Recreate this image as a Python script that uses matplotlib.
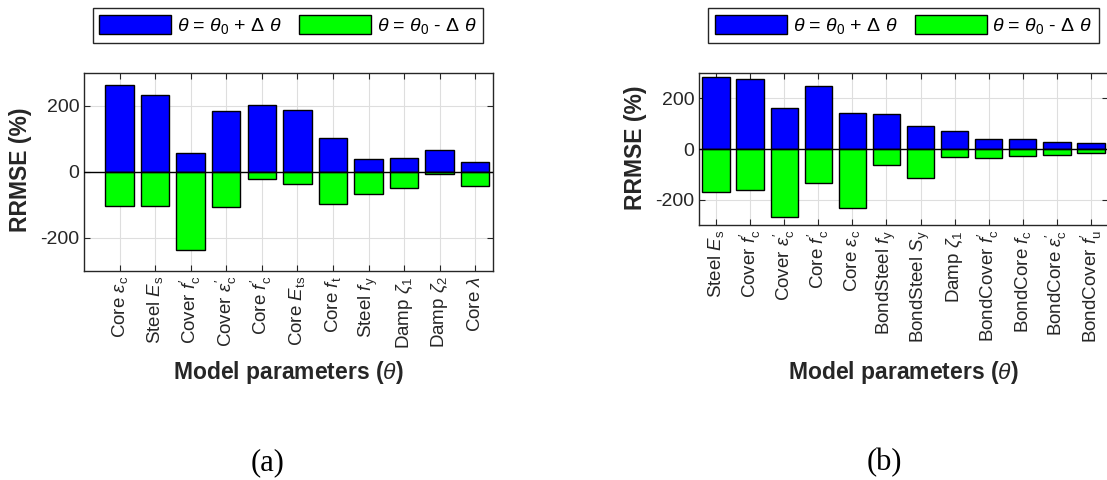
import matplotlib
matplotlib.use("Agg")
from matplotlib import pyplot as plt
from matplotlib.patches import Patch
import numpy as np

plt.rcParams['font.family'] = ['Liberation Sans', 'DejaVu Sans']
plt.rcParams['mathtext.fontset'] = 'custom'
plt.rcParams['mathtext.rm'] = 'Liberation Sans'
plt.rcParams['mathtext.it'] = 'Liberation Sans:italic'
plt.rcParams['mathtext.bf'] = 'Liberation Sans:bold'
plt.rcParams['axes.unicode_minus'] = False

# (a) parameters and RRMSE (%) for theta0 +/- dtheta
labels_a = [r"Core $\epsilon_\mathrm{c}$", r"Steel $E_\mathrm{s}$", r"Cover $f^{\prime}_\mathrm{c}$",
            r"Cover $\epsilon^{\prime}_\mathrm{c}$", r"Core $f^{\prime}_\mathrm{c}$", r"Core $E_\mathrm{ts}$",
            r"Core $f_\mathrm{t}$", r"Steel $f_\mathrm{y}$", r"Damp $\zeta_\mathrm{1}$",
            r"Damp $\zeta_\mathrm{2}$", r"Core $\lambda$"]
plus_a = [263, 233, 57, 184, 203, 187, 102, 38, 43, 66, 31]
minus_a = [-102, -104, -237, -107, -20, -37, -96, -66, -48, -7, -42]

# (b)
labels_b = [r"Steel $E_\mathrm{s}$", r"Cover $f^{\prime}_\mathrm{c}$", r"Cover $\epsilon^{\prime}_\mathrm{c}$",
            r"Core $f^{\prime}_\mathrm{c}$", r"Core $\epsilon_\mathrm{c}$", r"BondSteel $f_\mathrm{y}$",
            r"BondSteel $S_\mathrm{y}$", r"Damp $\zeta_\mathrm{1}$", r"BondCover $f^{\prime}_\mathrm{c}$",
            r"BondCore $f_\mathrm{c}$", r"BondCore $\epsilon^{\prime}_\mathrm{c}$", r"BondCover $f^{\prime}_\mathrm{u}$"]
plus_b = [286, 276, 161, 248, 142, 140, 90, 70, 39, 40, 29, 24]
minus_b = [-169, -162, -267, -136, -233, -65, -114, -31, -35, -26, -25, -17]

W, H = 1107, 480
fig = plt.figure(figsize=(W / 100, H / 100), dpi=100)

dark = (0.15, 0.15, 0.15)
leg_labels = [r"$\theta$ = $\theta_0$ + $\Delta$ $\theta$", r"$\theta$ = $\theta_0$ - $\Delta$ $\theta$"]


def panel(rect, labels, plus, minus, xlim, xlab_y, leg_x):
    ax = fig.add_axes([rect[0] / W, 1 - rect[3] / H, (rect[2] - rect[0]) / W, (rect[3] - rect[1]) / H])
    x = np.arange(1, len(labels) + 1)
    ax.bar(x, plus, 0.8, color=(0, 0, 1), edgecolor='black', linewidth=1, zorder=3)
    ax.bar(x, minus, 0.8, color=(0, 1, 0), edgecolor='black', linewidth=1, zorder=3)
    ax.axhline(0, color='black', linewidth=1, zorder=4)
    ax.set_xlim(*xlim)
    ax.set_ylim(-300, 300)
    ax.set_yticks([-200, 0, 200])
    ax.set_xticks(x)
    ax.set_xticklabels(labels, rotation=90, fontsize=13.5, color=dark)
    ax.tick_params(axis='y', labelsize=14, labelcolor=dark)
    ax.tick_params(direction='in', top=True, right=True, length=4, color=dark, width=0.8)
    ax.grid(True, color=(0.87, 0.87, 0.87), linewidth=0.8, zorder=0)
    ax.set_axisbelow(True)
    for s in ax.spines.values():
        s.set_color(dark)
        s.set_linewidth(1)
    ax.set_xlabel(r"Model parameters ($\theta$)", fontsize=16.5, fontweight='bold', color=dark, va='center')
    ax.xaxis.set_label_coords(0.5, xlab_y)
    ax.set_ylabel("RRMSE (%)", fontsize=16.5, fontweight='bold', color=dark, va='center')
    ax.yaxis.set_label_coords(-0.156, 0.51)
    handles = [Patch(facecolor=(0, 0, 1), edgecolor='black'), Patch(facecolor=(0, 1, 0), edgecolor='black')]
    leg = fig.legend(handles, leg_labels, loc='center', bbox_to_anchor=(leg_x / W, 1 - 25.5 / H),
                     ncol=2, fontsize=14, handlelength=3.7, handleheight=1.1, handletextpad=0.3,
                     columnspacing=0.9, fancybox=False, framealpha=1, borderpad=0.35)
    leg.get_frame().set_edgecolor(dark)
    leg.get_frame().set_linewidth(1)
    return ax


panel((84, 73, 493, 271), labels_a, plus_a, minus_a, (0, 11.5), (271 - 373) / 198, 288)
panel((699, 73, 1108, 225), labels_b, plus_b, minus_b, (0.5, 12.5), (225 - 373) / 152, 903.5)

fig.text(268 / W, 1 - 463 / H, "(a)", fontsize=22, family='Liberation Serif', ha='center', va='center')
fig.text(884 / W, 1 - 463 / H, "(b)", fontsize=22, family='Liberation Serif', ha='center', va='center')

fig.savefig("out.png", dpi=100)
